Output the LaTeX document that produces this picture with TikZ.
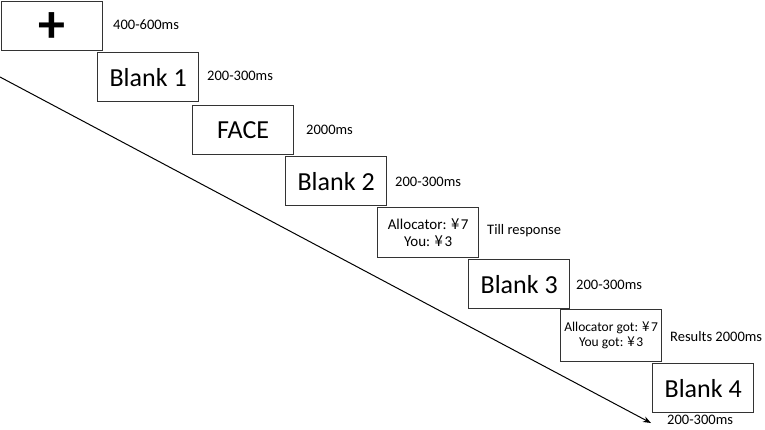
\documentclass[tikz,border=0pt]{standalone}
\usepackage{fontspec}
\setmainfont{Carlito}
\newfontfamily\cjk{Noto Sans CJK SC}
\newcommand{\yen}{{\cjk ¥}\kern1.5pt}
\usetikzlibrary{arrows.meta}
\tikzset{
  stim/.style={draw=black!80, line width=1.3pt, fill=white, anchor=north west,
    minimum width=101pt, minimum height=49pt, inner sep=0pt, align=center,
    font=\fontsize{26}{30}\selectfont},
  small/.style={font=\fontsize{15}{17}\selectfont},
  smaller/.style={font=\fontsize{13.5}{15}\selectfont},
  dur/.style={anchor=west, inner sep=0pt, font=\fontsize{14.5}{16}\selectfont},
  timeline/.style={draw=black, line width=1pt, -{Stealth[length=8pt,width=6pt]}}
}
\begin{document}
\begin{tikzpicture}[x=1pt,y=-1pt]
\useasboundingbox (0,0) rectangle (765,429);
\coordinate (start) at (0,77);
\coordinate (end) at (651,423);
\draw[timeline] (start) -- (end);
\node[stim] (b1) at (1,1) {\fontsize{54}{54}\selectfont\raisebox{-16pt}[0pt][0pt]{\textbf{+}}};
\node[stim] (b2) at (97,52) {Blank 1};
\node[stim] (b3) at (192,105) {FACE};
\node[stim] (b4) at (285,156) {Blank 2};
\node[stim, small, minimum height=50pt] (b5) at (377,207) {Allocator: \yen7\\You: \yen3};
\node[stim] (b6) at (468,259) {Blank 3};
\node[stim, smaller, minimum height=52pt] (b7) at (560,309) {Allocator got: \yen7\\You got: \yen3};
\node[stim] (b8) at (652,363) {Blank 4};
\node[dur] (t1) at (113,25) {400-600ms};
\node[dur] (t2) at (207,76) {200-300ms};
\node[dur] (t3) at (306,130) {2000ms};
\node[dur] (t4) at (395,182) {200-300ms};
\node[dur] (t5) at (487,231) {Till response};
\node[dur] (t6) at (576,285) {200-300ms};
\node[dur] (t7) at (670,337) {Results 2000ms};
\node[dur] (t8) at (667,420) {200-300ms};
\end{tikzpicture}
\end{document}
